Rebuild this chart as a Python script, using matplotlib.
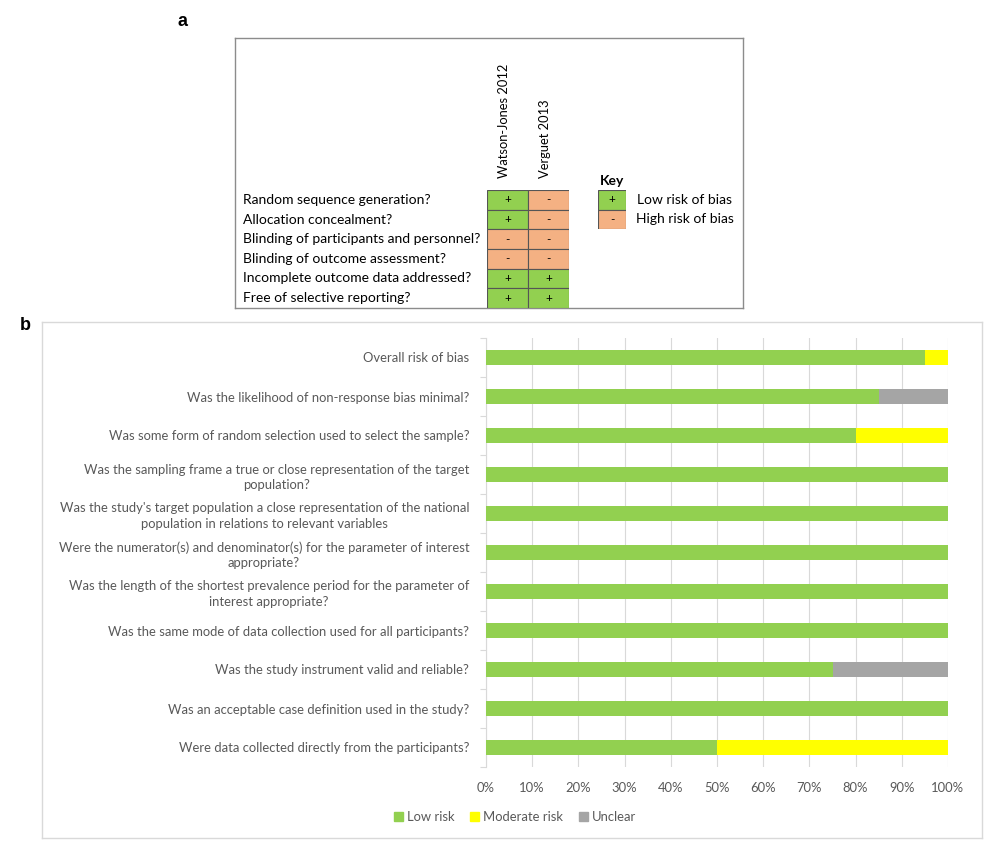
import numpy as np
import matplotlib.pyplot as plt
from matplotlib.patches import Rectangle, Patch
from matplotlib.transforms import blended_transform_factory

plt.rcParams['font.family'] = ['Lato', 'DejaVu Sans']

# ---- panel a data ----
domains_a = ['Random sequence generation?', 'Allocation concealment?',
             'Blinding of participants and personnel?', 'Blinding of outcome assessment?',
             'Incomplete outcome data addressed?', 'Free of selective reporting?']
studies_a = ['Watson-Jones 2012', 'Verguet 2013']
# 1 = low risk (+), 0 = high risk (-)
watson_jones = [1, 1, 0, 0, 1, 1]
verguet = [0, 0, 0, 0, 1, 1]
key_labels = ['Low risk of bias', 'High risk of bias']

# ---- panel b data ----
questions_b = [
    'Overall risk of bias',
    'Was the likelihood of non-response bias minimal?',
    'Was some form of random selection used to select the sample?',
    'Was the sampling frame a true or close representation of the target\npopulation?',
    "Was the study's target population a close representation of the national\npopulation in relations to relevant variables",
    'Were the numerator(s) and denominator(s) for the parameter of interest\nappropriate?',
    'Was the length of the shortest prevalence period for the parameter of\ninterest appropriate?',
    'Was the same mode of data collection used for all participants?',
    'Was the study instrument valid and reliable?',
    'Was an acceptable case definition used in the study?',
    'Were data collected directly from the participants?',
]
low_risk = [95, 85, 80, 100, 100, 100, 100, 100, 75, 100, 50]
moderate_risk = [5, 0, 20, 0, 0, 0, 0, 0, 0, 0, 50]
unclear = [0, 15, 0, 0, 0, 0, 0, 0, 25, 0, 0]
xticks_b = np.arange(0, 101, 10)

GREEN = '#92D050'
SALMON = '#F4B183'
YELLOW = '#FFFF00'
GREY = '#A5A5A5'
TXT = '#595959'

W, H = 1000, 851


def fbox(x0, y0, x1, y1):
    # pixel box -> figure fraction rect
    return [x0 / W, 1 - y1 / H, (x1 - x0) / W, (y1 - y0) / H]


def fx(x):
    return x / W


def fy(y):
    return 1 - y / H


fig = plt.figure(figsize=(10, 8.51), dpi=100)

# ================= panel a =================
fig.text(fx(183), fy(22), 'a', fontsize=13, fontweight='bold', family='Liberation Sans',
         ha='center', va='center')

frame_a = fig.add_axes(fbox(235, 38, 743, 308))
frame_a.set_xticks([])
frame_a.set_yticks([])
for s in frame_a.spines.values():
    s.set_color('#8c8c8c')
    s.set_linewidth(1.0)

ax_a = fig.add_axes(fbox(487, 190, 569, 308))
ax_a.set_xlim(0, len(studies_a))
ax_a.set_ylim(len(domains_a), 0)
ax_a.axis('off')
for j, vals in enumerate([watson_jones, verguet]):
    for i, v in enumerate(vals):
        ax_a.add_patch(Rectangle((j, i), 1, 1, facecolor=GREEN if v else SALMON,
                                 edgecolor='#555555', linewidth=0.8))
        ax_a.text(j + 0.5, i + 0.5, '+' if v else '-', ha='center', va='center',
                  fontsize=8.5, color='black')
row_tr = blended_transform_factory(fig.transFigure, ax_a.transData)
for i, d in enumerate(domains_a):
    ax_a.text(fx(243), i + 0.5, d, transform=row_tr, ha='left', va='center',
              fontsize=10, color='black')
for j, s in enumerate(studies_a):
    ax_a.text(j + 0.42, -0.6, s, rotation=90, ha='center', va='bottom', fontsize=9.3,
              color='black')

ax_key = fig.add_axes(fbox(598, 190, 626, 229))
ax_key.set_xlim(0, 1)
ax_key.set_ylim(2, 0)
ax_key.axis('off')
for i, v in enumerate([1, 0]):
    ax_key.add_patch(Rectangle((0, i), 1, 1, facecolor=GREEN if v else SALMON,
                               edgecolor='#555555', linewidth=0.8))
    ax_key.text(0.5, i + 0.5, '+' if v else '-', ha='center', va='center', fontsize=8.5)
    ax_key.text(3.1, i + 0.5, key_labels[i], ha='center', va='center', fontsize=10)
ax_key.text(0.5, -0.15, 'Key', ha='center', va='bottom', fontsize=10, fontweight='bold')

# ================= panel b =================
fig.text(fx(25), fy(325), 'b', fontsize=13, fontweight='bold', family='Liberation Sans',
         ha='center', va='center')

frame_b = fig.add_axes(fbox(42, 322, 982, 838))
frame_b.set_xticks([])
frame_b.set_yticks([])
for s in frame_b.spines.values():
    s.set_color('#d9d9d9')
    s.set_linewidth(1.0)

ax_b = fig.add_axes(fbox(486, 338, 948, 767))
y = np.arange(len(questions_b))
low = np.array(low_risk)
mod = np.array(moderate_risk)
unc = np.array(unclear)
ax_b.barh(y, low, height=0.4, color=GREEN, label='Low risk', zorder=3)
ax_b.barh(y, mod, left=low, height=0.4, color=YELLOW, label='Moderate risk', zorder=3)
ax_b.barh(y, unc, left=low + mod, height=0.4, color=GREY, label='Unclear', zorder=3)

ax_b.set_xlim(0, 100)
ax_b.set_ylim(len(questions_b) - 0.5, -0.5)
ax_b.set_xticks(xticks_b)
ax_b.set_xticklabels([f'{v}%' for v in xticks_b])
ax_b.set_yticks(y)
ax_b.set_yticklabels(questions_b, multialignment='center', linespacing=1.35)
ax_b.set_yticks(np.arange(len(questions_b) + 1) - 0.5, minor=True)
ax_b.tick_params(axis='y', which='major', length=0, pad=12, labelsize=9.4, labelcolor=TXT)
ax_b.tick_params(axis='y', which='minor', length=4, color='#d9d9d9', width=0.8)
ax_b.tick_params(axis='x', length=0, pad=11, labelsize=9.4, labelcolor=TXT)
ax_b.grid(axis='x', color='#d9d9d9', linewidth=0.8, zorder=0)
for side in ['top', 'right', 'bottom']:
    ax_b.spines[side].set_visible(False)
ax_b.spines['left'].set_color('#d9d9d9')
ax_b.spines['left'].set_linewidth(0.8)

handles = [Patch(color=GREEN), Patch(color=YELLOW), Patch(color=GREY)]
fig.legend(handles, ['Low risk', 'Moderate risk', 'Unclear'], loc='center',
           bbox_to_anchor=(fx(515), fy(817)), ncol=3, frameon=False, fontsize=9.4,
           labelcolor=TXT, handlelength=0.7, handleheight=0.7, handletextpad=0.3,
           columnspacing=1.2)

fig.savefig('out.png', dpi=100)
